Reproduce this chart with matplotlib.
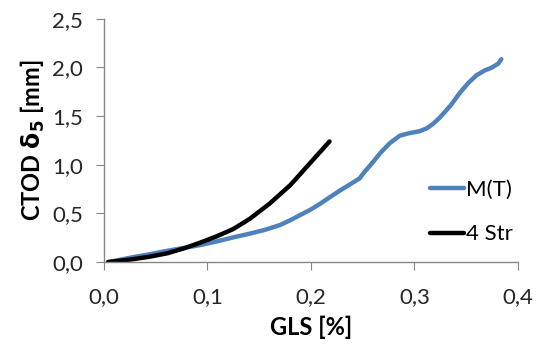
import numpy as np
import matplotlib.pyplot as plt
from matplotlib.ticker import FuncFormatter

plt.rcParams['font.family'] = ['Lato', 'DejaVu Sans']

# M(T) curve
mt_x = [0.004, 0.028, 0.044, 0.061, 0.077, 0.093, 0.110, 0.125, 0.140, 0.155,
        0.170, 0.180, 0.189, 0.199, 0.209, 0.218, 0.228, 0.238, 0.247, 0.252,
        0.257, 0.267, 0.276, 0.286, 0.295, 0.305, 0.312, 0.318, 0.325, 0.335,
        0.344, 0.352, 0.360, 0.368, 0.375, 0.381, 0.384]
mt_y = [0.0, 0.050, 0.080, 0.116, 0.145, 0.175, 0.215, 0.254, 0.290, 0.330,
        0.380, 0.430, 0.480, 0.535, 0.600, 0.665, 0.735, 0.800, 0.860, 0.930,
        0.990, 1.120, 1.220, 1.300, 1.325, 1.345, 1.375, 1.420, 1.490, 1.610,
        1.740, 1.840, 1.920, 1.970, 2.000, 2.040, 2.085]

# 4 Str curve
str_x = [0.004, 0.028, 0.044, 0.061, 0.077, 0.093, 0.109, 0.125, 0.141, 0.160,
         0.180, 0.199, 0.218]
str_y = [0.0, 0.030, 0.055, 0.090, 0.140, 0.200, 0.265, 0.340, 0.445, 0.600,
         0.790, 1.015, 1.240]

fig = plt.figure(figsize=(5.44, 3.49), dpi=100)
ax = fig.add_axes([0.191, 0.249, 0.761, 0.697])

ax.plot(mt_x, mt_y, color='#4f81bd', lw=3.2, label='M(T)',
        solid_capstyle='round', solid_joinstyle='round')
ax.plot(str_x, str_y, color='black', lw=3.2, label='4 Str',
        solid_capstyle='round', solid_joinstyle='round')

ax.set_xlim(0, 0.4)
ax.set_ylim(0, 2.5)
ax.set_xticks(np.arange(0, 0.41, 0.1))
ax.set_yticks(np.arange(0, 2.51, 0.5))
fmt = FuncFormatter(lambda v, p: f'{v:.1f}'.replace('.', ','))
ax.xaxis.set_major_formatter(fmt)
ax.yaxis.set_major_formatter(fmt)

for s in ['top', 'right']:
    ax.spines[s].set_visible(False)
for s in ['left', 'bottom']:
    ax.spines[s].set_color('#868686')
    ax.spines[s].set_linewidth(1.0)
ax.tick_params(axis='both', direction='out', length=6, color='#868686',
               labelsize=16, labelcolor='#262626')
ax.tick_params(axis='x', pad=12)
ax.tick_params(axis='y', pad=9)

ax.set_xlabel('GLS [%]', fontsize=17, fontweight='bold', labelpad=6)
ax.set_ylabel(r'CTOD $\mathbf{\delta_5}$ [mm]', fontsize=17, fontweight='bold', labelpad=4)

ax.legend(loc='center left', bbox_to_anchor=(0.74, 0.205), frameon=False,
          fontsize=16, handlelength=1.5, handletextpad=0.1, labelspacing=1.1)

fig.savefig('out.png', dpi=100)
